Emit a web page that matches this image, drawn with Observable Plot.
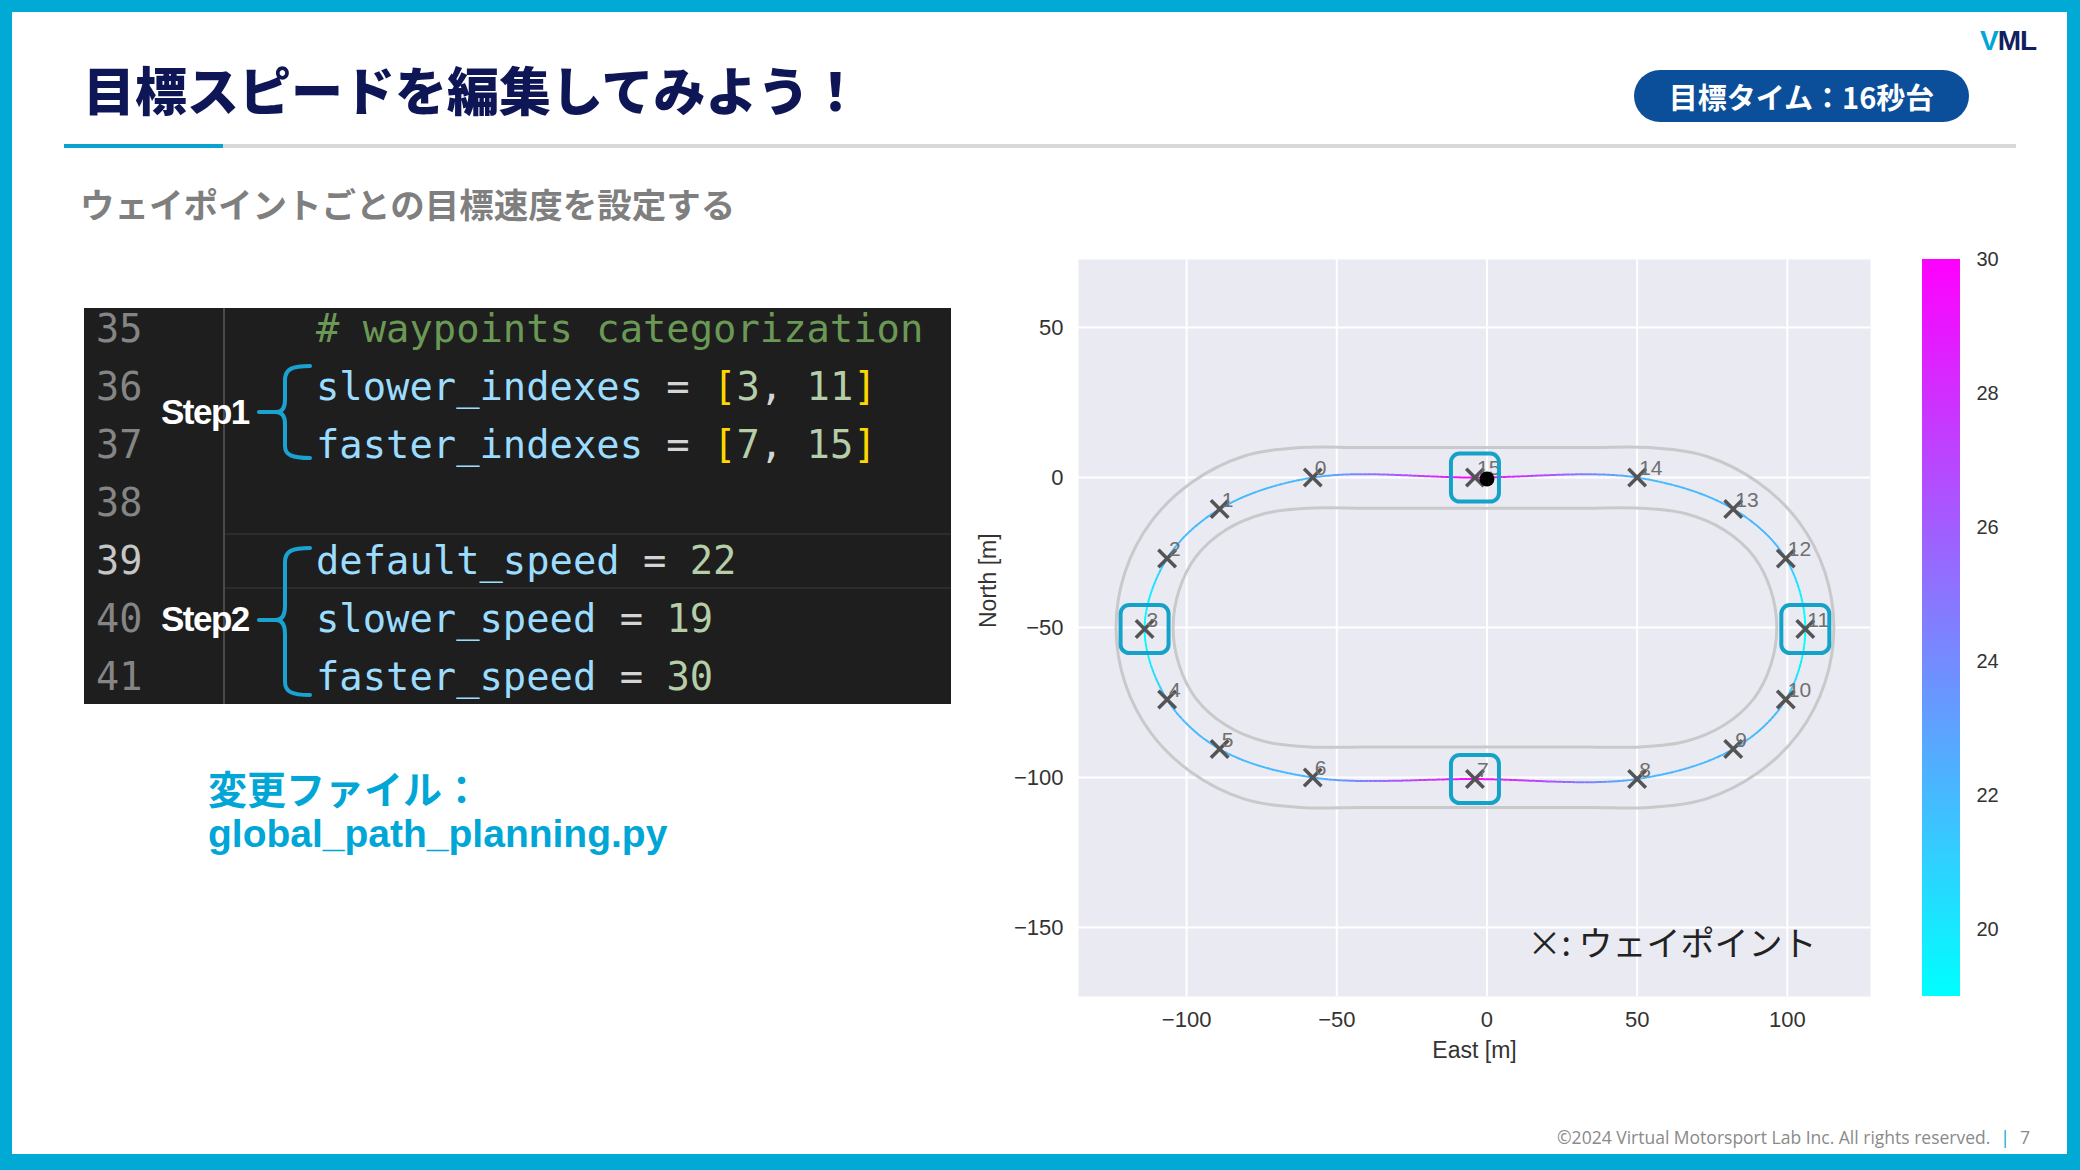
<!DOCTYPE html>
<html><head><meta charset="utf-8">
<script src="https://cdn.jsdelivr.net/npm/d3@7"></script>
<script src="https://cdn.jsdelivr.net/npm/@observablehq/plot@0.6"></script>
<style>
html,body{margin:0;padding:0;}
body{width:2080px;height:1170px;position:relative;overflow:hidden;background:#fff;font-family:"Noto Sans CJK JP","Noto Sans",sans-serif;}
.abs{position:absolute;white-space:nowrap;}
#frame{position:absolute;left:0;top:0;width:2080px;height:1170px;box-sizing:border-box;border:solid #00aad4;border-width:12px 13px 16px 12px;pointer-events:none;z-index:10;}
#title{left:83px;top:63px;font-size:52px;line-height:52px;font-weight:900;color:#0f1656;}
#rule-gray{left:64px;top:144px;width:1952px;height:4px;background:#d9d9d9;}
#rule-blue{left:64px;top:144px;width:159px;height:4px;background:#0aa2cf;}
#badge{left:1634px;top:70px;width:335px;height:52px;border-radius:26px;background:#0b4f9a;color:#fff;font-size:29px;font-weight:700;line-height:52px;text-align:center;}
#logo{left:1980px;top:27px;font-family:"Liberation Sans",Arial,sans-serif;font-weight:700;font-size:28px;line-height:28px;color:#10205e;letter-spacing:-1px;}
#logo span{color:#00a6d6;}
#subtitle{left:80px;top:185px;font-size:34.5px;line-height:36px;font-weight:700;color:#7f7f7f;}
#code{left:84px;top:308px;width:867px;height:396px;background:#1e1e1e;}
#sep{left:223px;top:308px;width:2px;height:396px;background:#4a4a4a;}
#hl{left:225px;top:533px;width:726px;height:52px;border-top:2px solid #2c2c2c;border-bottom:2px solid #2c2c2c;}
.ln{left:96px;height:58px;line-height:58px;font-family:"DejaVu Sans Mono",monospace;font-size:38.5px;color:#858585;}
.cl{left:316px;height:58px;line-height:58px;font-family:"DejaVu Sans Mono",monospace;font-size:38.8px;color:#d4d4d4;white-space:pre;}
.cm{color:#6a9955}.id{color:#9cdcfe}.nm{color:#b5cea8}.br{color:#ffd700}
.step{left:161px;font-family:"Liberation Sans",Arial,sans-serif;font-weight:700;font-size:35px;line-height:36px;color:#fff;letter-spacing:-1.5px;}
#file1{left:208px;top:765px;font-size:39px;line-height:44px;font-weight:700;color:#00a6d6;}
#file2{left:208px;top:812px;font-family:"Liberation Sans",Arial,sans-serif;font-size:39px;line-height:44px;font-weight:700;color:#00a6d6;}
#footer{right:50px;top:1126px;font-family:"Open Sans","Noto Sans",sans-serif;font-size:17.5px;line-height:22px;color:#8a8a8a;}
#footer b{color:#00a6d6;font-weight:400;margin:0 10px;}
#chart{left:960px;top:240px;}
#cbar{left:1900px;top:240px;}
</style></head>
<body>
<div id="frame"></div>
<div class="abs" id="logo"><span>V</span>ML</div>
<div class="abs" id="title">目標スピードを編集してみよう！</div>
<div class="abs" id="badge">目標タイム：16秒台</div>
<div class="abs" id="rule-gray"></div>
<div class="abs" id="rule-blue"></div>
<div class="abs" id="subtitle">ウェイポイントごとの目標速度を設定する</div>

<div class="abs" id="code"></div>
<div class="abs" id="hl"></div>
<div class="abs" id="sep"></div>
<div class="abs ln" style="top:300px">35</div>
<div class="abs ln" style="top:358px">36</div>
<div class="abs ln" style="top:416px">37</div>
<div class="abs ln" style="top:474px">38</div>
<div class="abs ln" style="top:532px;color:#c6c6c6">39</div>
<div class="abs ln" style="top:590px">40</div>
<div class="abs ln" style="top:648px">41</div>
<div class="abs cl" style="top:300px"><span class="cm"># waypoints categorization</span></div>
<div class="abs cl" style="top:358px"><span class="id">slower_indexes</span> = <span class="br">[</span><span class="nm">3</span>, <span class="nm">11</span><span class="br">]</span></div>
<div class="abs cl" style="top:416px"><span class="id">faster_indexes</span> = <span class="br">[</span><span class="nm">7</span>, <span class="nm">15</span><span class="br">]</span></div>
<div class="abs cl" style="top:532px"><span class="id">default_speed</span> = <span class="nm">22</span></div>
<div class="abs cl" style="top:590px"><span class="id">slower_speed</span> = <span class="nm">19</span></div>
<div class="abs cl" style="top:648px"><span class="id">faster_speed</span> = <span class="nm">30</span></div>
<div class="abs step" style="top:394px">Step1</div>
<div class="abs step" style="top:601px">Step2</div>
<svg class="abs" style="left:0;top:0" width="400" height="720">
  <g fill="none" stroke="#1aa3d0" stroke-width="4" stroke-linecap="round">
    <path d="M310,366 C292,366 285,369 285,380 L285,400 C285,408 282,412 276,412 L259,412 M276,412 C282,412 285,416 285,424 L285,446 C285,455 292,458 310,458"/>
    <path d="M310,548 C292,548 285,551 285,562 L285,606 C285,615 282,620 276,620 L259,620 M276,620 C282,620 285,625 285,634 L285,682 C285,692 292,695 310,695"/>
  </g>
</svg>
<div class="abs" id="file1">変更ファイル：</div>
<div class="abs" id="file2">global_path_planning.py</div>

<div class="abs" id="chart"></div>
<div class="abs" id="cbar"></div>
<div class="abs" id="footer">©2024 Virtual Motorsport Lab Inc. All rights reserved.<b>|</b>7</div>

<script>
// ---- data ----
const waypointEast  = [-58, -89, -106.5, -114, -106.5, -89, -58, -4, 50, 82, 99.5, 106, 99.5, 82, 50, -4];
const waypointNorth = [0, -10.5, -27, -50.5, -74, -90.5, -100, -100.5, -100.5, -90.5, -74, -50.5, -27, -10.5, 0, 0];
const slowerIndexes = [3, 11];
const fasterIndexes = [7, 15];
const defaultSpeed = 22, slowerSpeed = 19, fasterSpeed = 30;

// track edges (going round the loop)
const outerEast  = [-62, -42.7, -23.3, -4, 15.3, 34.7, 54, 73, 90.1, 103.8, 112.5, 115.5, 112.5, 103.8, 90.1, 73, 54, 34.7, 15.3, -4, -23.3, -42.7, -62, -81, -98.1, -111.8, -120.5, -123.5, -120.5, -111.8, -98.1, -81];
const outerNorth = [10, 10, 10, 10, 10, 10, 10, 7.1, -1.5, -14.7, -31.5, -50, -68.5, -85.3, -98.5, -107.1, -110, -110, -110, -110, -110, -110, -110, -107.1, -98.5, -85.3, -68.5, -50, -31.5, -14.7, -1.5, 7.1];
const innerEast  = [-59, -40.7, -22.3, -4, 14.3, 32.7, 51, 66, 79, 89, 94.5, 96.5, 94.5, 89, 79, 66, 51, 32.7, 14.3, -4, -22.3, -40.7, -59, -74, -87, -97, -102.5, -104.5, -102.5, -97, -87, -74];
const innerNorth = [-10.2, -10.2, -10.2, -10.2, -10.2, -10.2, -10.2, -12, -17.5, -26.5, -37.5, -50, -62.5, -73.5, -82.5, -88, -89.8, -89.8, -89.8, -89.8, -89.8, -89.8, -89.8, -88, -82.5, -73.5, -62.5, -50, -37.5, -26.5, -17.5, -12];

const carEast = [0], carNorth = [-0.5];
const xTicks = [-100, -50, 0, 50, 100];
const yTicks = [-150, -100, -50, 0, 50];
const colorbarTicks = [20, 22, 24, 26, 28, 30];
const speedDomain = [19, 30];
const xLabel = "East [m]", yLabel = "North [m]";
const legendNote = "×: ウェイポイント";

// ---- tables built from the arrays ----
const waypoints = waypointEast.map((e, i) => ({
  i, east: e, north: waypointNorth[i],
  speed: slowerIndexes.includes(i) ? slowerSpeed : fasterIndexes.includes(i) ? fasterSpeed : defaultSpeed
}));
const outer = outerEast.map((e, i) => ({east: e, north: outerNorth[i]}));
const inner = innerEast.map((e, i) => ({east: e, north: innerNorth[i]}));
const car = carEast.map((e, i) => ({east: e, north: carNorth[i]}));
const highlighted = waypoints.filter(d => slowerIndexes.includes(d.i) || fasterIndexes.includes(d.i));

const colorScale = Plot.scale({color: {type: "linear", domain: speedDomain, range: ["cyan", "magenta"], interpolate: "rgb"}});

const roundedSquare = {
  draw(ctx, size) {
    const h = Math.sqrt(size / Math.PI), c = h * 0.36;
    ctx.moveTo(-h + c, -h);
    ctx.arcTo(h, -h, h, h, c);
    ctx.arcTo(h, h, -h, h, c);
    ctx.arcTo(-h, h, -h, -h, c);
    ctx.arcTo(-h, -h, h, -h, c);
    ctx.closePath();
  }
};

const chart = Plot.plot({
  width: 940, height: 840,
  marginLeft: 118, marginTop: 19, marginRight: 30, marginBottom: 84,
  x: {domain: [-136, 127.7], ticks: xTicks, tickSize: 0, tickPadding: 15, label: null},
  y: {domain: [-173, 72.7], ticks: yTicks, tickSize: 0, tickPadding: 15, label: null},
  style: {fontFamily: "Liberation Sans, Arial, sans-serif", fontSize: "22px", color: "#333", background: "transparent", overflow: "visible"},
  marks: [
    Plot.frame({fill: "#eaeaf2", stroke: "none"}),
    Plot.ruleX(xTicks, {stroke: "white", strokeWidth: 2}),
    Plot.ruleY(yTicks, {stroke: "white", strokeWidth: 2}),
    Plot.line(outer, {x: "east", y: "north", curve: "catmull-rom-closed", stroke: "#c9c9cc", strokeWidth: 3}),
    Plot.line(inner, {x: "east", y: "north", curve: "catmull-rom-closed", stroke: "#c9c9cc", strokeWidth: 3}),
    Plot.line(waypoints, {x: "east", y: "north", curve: "catmull-rom-closed", stroke: "url(#speedGrad)", strokeWidth: 2, strokeDasharray: "3 1.5"}),
    Plot.dot(waypoints, {x: "east", y: "north", symbol: "times", r: 8, stroke: "#545454", strokeWidth: 3.5}),
    Plot.text(waypoints, {x: "east", y: "north", text: d => String(d.i), dx: 2, dy: -9, textAnchor: "start", fill: "#707070", fontSize: 21}),
    Plot.dot(highlighted, {x: "east", y: "north", symbol: roundedSquare, r: 24, stroke: "#14a2c9", strokeWidth: 4, fill: "none"}),
    Plot.dot(car, {x: "east", y: "north", r: 7.5, fill: "black", stroke: "none"}),
    Plot.text([legendNote], {text: d => d, frameAnchor: "bottom-right", dx: -54, dy: -41, textAnchor: "end", fontSize: 34, fill: "#222", fontFamily: "Noto Sans CJK JP, sans-serif"}),
    Plot.text([xLabel], {text: d => d, frameAnchor: "bottom", dy: 61, fontSize: 23, fill: "#333"}),
    Plot.text([yLabel], {text: d => d, frameAnchor: "left", dx: -90, rotate: -90, fontSize: 23, fill: "#333"})
  ]
});

// gradient following the speed profile, through the plot's own x and colour scales
const xs = chart.scale("x");
const NS = "http://www.w3.org/2000/svg";
const sorted = waypoints.slice().sort((a, b) => a.east - b.east);
const stops = [];
for (const d of sorted) if (!stops.length || Math.abs(d.east - stops[stops.length - 1].east) > 1) stops.push(d);
const px0 = xs.apply(stops[0].east), px1 = xs.apply(stops[stops.length - 1].east);
const defs = document.createElementNS(NS, "defs");
const lg = document.createElementNS(NS, "linearGradient");
lg.setAttribute("id", "speedGrad");
lg.setAttribute("gradientUnits", "userSpaceOnUse");
lg.setAttribute("x1", px0); lg.setAttribute("x2", px1);
lg.setAttribute("y1", 0); lg.setAttribute("y2", 0);
for (const d of stops) {
  const s = document.createElementNS(NS, "stop");
  s.setAttribute("offset", (xs.apply(d.east) - px0) / (px1 - px0));
  s.setAttribute("stop-color", colorScale.apply(d.speed));
  lg.appendChild(s);
}
defs.appendChild(lg);
chart.insertBefore(defs, chart.firstChild);
document.getElementById("chart").appendChild(chart);

// colour bar
const cbar = Plot.plot({
  width: 120, height: 840,
  marginLeft: 22, marginRight: 60, marginTop: 19, marginBottom: 84,
  x: {domain: [0, 1], axis: null},
  y: {domain: speedDomain, ticks: colorbarTicks, tickSize: 0, tickPadding: 16, axis: "right", label: null},
  style: {fontFamily: "Liberation Sans, Arial, sans-serif", fontSize: "20px", color: "#333", background: "transparent", overflow: "visible"},
  marks: [
    Plot.rect([speedDomain], {x1: 0, x2: 1, y1: d => d[0], y2: d => d[1], fill: "url(#cbGrad)"})
  ]
});
const cdefs = document.createElementNS(NS, "defs");
const cg = document.createElementNS(NS, "linearGradient");
cg.setAttribute("id", "cbGrad");
cg.setAttribute("x1", 0); cg.setAttribute("x2", 0); cg.setAttribute("y1", 1); cg.setAttribute("y2", 0);
for (const v of [speedDomain[0], ...colorbarTicks]) {
  const s = document.createElementNS(NS, "stop");
  s.setAttribute("offset", (v - speedDomain[0]) / (speedDomain[1] - speedDomain[0]));
  s.setAttribute("stop-color", colorScale.apply(v));
  cg.appendChild(s);
}
cdefs.appendChild(cg);
cbar.insertBefore(cdefs, cbar.firstChild);
document.getElementById("cbar").appendChild(cbar);
</script>
</body></html>
